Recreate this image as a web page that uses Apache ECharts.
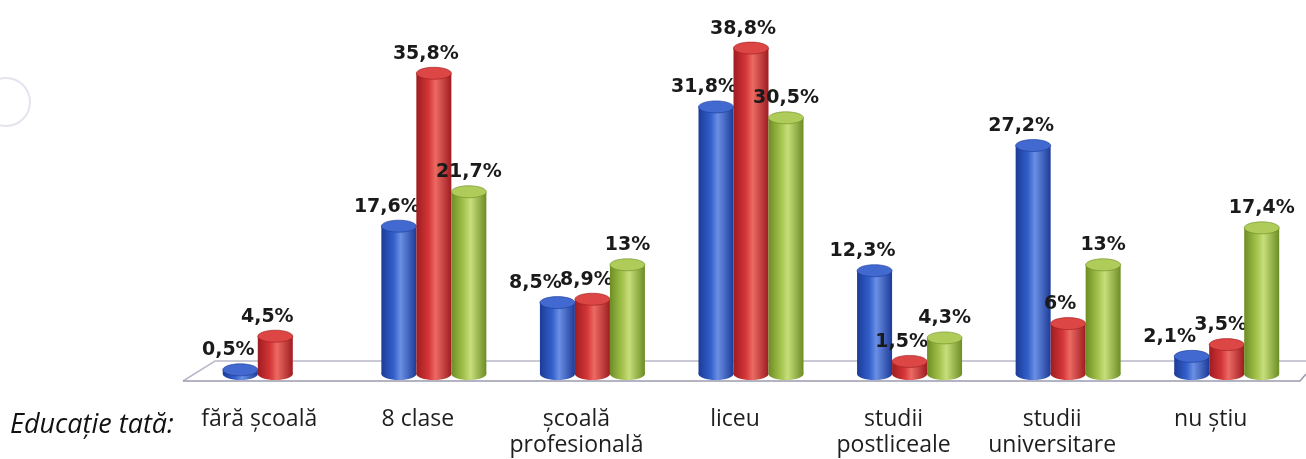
<!DOCTYPE html>
<html><head><meta charset="utf-8">
<script src="https://cdn.jsdelivr.net/npm/echarts@6/dist/echarts.min.js"></script>
<style>html,body{margin:0;padding:0;background:#fff}#c{width:1306px;height:459px}</style>
</head><body><div id="c"></div>
<script>
var categories = ['fără școală', '8 clase', 'școală\nprofesională', 'liceu', 'studii\npostliceale', 'studii\nuniversitare', 'nu știu'];
var seriesBlue = [0.5, 17.6, 8.5, 31.8, 12.3, 27.2, 2.1];
var seriesRed = [4.5, 35.8, 8.9, 38.8, 1.5, 6, 3.5];
var seriesGreen = [null, 21.7, 13, 30.5, 4.3, 13, 17.4];
var axisTitle = 'Educație tată:';

var palette = [
  {dark: '#1c3b98', mid: '#335fca', light: '#6a8fe4', top: '#4169d0', lab: -12},
  {dark: '#9e1c20', mid: '#d43638', light: '#ec6a63', top: '#dc4644', lab: -8},
  {dark: '#6c8d24', mid: '#a3c24c', light: '#c7de7b', top: '#afcc5a', lab: 0}
];
var BW = 35, RY = 6;

function fmt(v){ return String(v).replace('.', ',') + '%'; }

// avoid label collision between neighbouring blue/red labels of similar height
function labelShift(idx, i){
  var close = Math.abs(seriesBlue[i] - seriesRed[i]) < 2;
  if (!close) return palette[idx].lab;
  if (idx === 0) return -22;
  if (idx === 1) return -6;
  return palette[idx].lab;
}

function makeSeries(data, idx){
  var col = palette[idx];
  var grad = new echarts.graphic.LinearGradient(0,0,1,0,[
    {offset:0,color:col.dark},{offset:0.35,color:col.mid},{offset:0.55,color:col.light},{offset:1,color:col.dark}]);
  return {
    type: 'custom',
    data: data.map(function(v,i){ return [i, v]; }),
    encode: {x: 0, y: 1},
    z: 10 + idx,
    renderItem: function(params, api){
      var v = api.value(1);
      if (v == null || isNaN(v)) return;
      var i = api.value(0);
      var top = api.coord([i, v]);
      var base = api.coord([i, 0]);
      var cx = top[0] + (idx - 1) * BW;
      var x0 = cx - BW/2;
      var h = base[1] - top[1];
      return {type: 'group', children: [
        {type:'ellipse', shape:{cx:cx, cy:base[1], rx:BW/2, ry:RY}, style:{fill:grad}},
        {type:'rect', shape:{x:x0, y:top[1], width:BW, height:h}, style:{fill:grad}},
        {type:'ellipse', shape:{cx:cx, cy:top[1], rx:BW/2, ry:RY}, style:{fill:col.top, stroke:col.dark, lineWidth:0.6}},
        {type:'text', style:{text: fmt(v), x: cx + labelShift(idx, i), y: top[1] - RY - 4, align:'center', verticalAlign:'bottom',
          font:'bold 19px "DejaVu Sans"', fill:'#1a1a1a'}, z2: 100}
      ]};
    }
  };
}

var chart = echarts.init(document.getElementById('c'));
chart.setOption({
  animation: false,
  grid: {left: 196, right: 0, top: 38, bottom: 85},
  xAxis: {
    type: 'category', data: categories,
    axisLine: {show: false}, axisTick: {show: false},
    axisLabel: {interval: 0, margin: 32, color: '#1e1e1e', fontFamily: 'Open Sans', fontSize: 23, lineHeight: 26, padding: [0, 32, 0, 0]}
  },
  yAxis: {type: 'value', min: 0, max: 40, show: false, splitLine: {show: false}},
  graphic: [
    {type:'circle', shape:{cx:6, cy:102, r:24}, style:{stroke:'#e4e4ee', lineWidth:2, fill:null}, z: 0},
    {type:'polyline', shape:{points:[[183,381],[215,361],[1306,361]]}, style:{stroke:'#b9b9c9', lineWidth:1.5, fill:null}, z: 1},
    {type:'polyline', shape:{points:[[183,381],[1300,381],[1306,374]]}, style:{stroke:'#9a9aae', lineWidth:1.5, fill:null}, z: 1},
    {type:'text', left: 10, top: 412, style:{text: axisTitle, font:'italic 27px "Open Sans"', fill:'#111'}}
  ],
  series: [makeSeries(seriesBlue,0), makeSeries(seriesRed,1), makeSeries(seriesGreen,2)]
});
</script></body></html>
